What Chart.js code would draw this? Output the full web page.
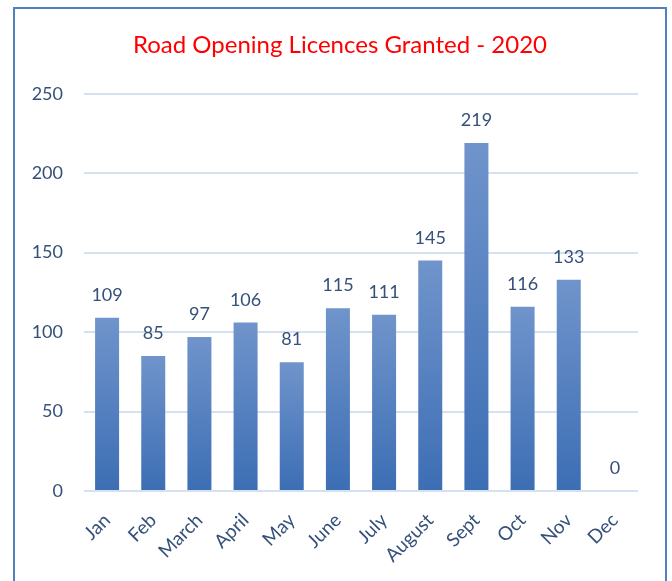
<!DOCTYPE html>
<html>
<head>
<meta charset="utf-8">
<script src="https://cdn.jsdelivr.net/npm/chart.js@4"></script>
<style>
  html, body { margin: 0; padding: 0; background: #fff; }
  #wrap { position: relative; width: 672px; height: 581px; overflow: hidden; }
  #frame { position: absolute; left: 13px; top: 7px; width: 654px; height: 620px; border: 2px solid #4f81bd; box-sizing: border-box; }
  canvas { position: absolute; left: 0; top: 0; }
</style>
</head>
<body>
<div id="wrap">
  <div id="frame"></div>
  <canvas id="chart" width="672" height="581"></canvas>
</div>
<script>
const months = ['Jan', 'Feb', 'March', 'April', 'May', 'June', 'July', 'August', 'Sept', 'Oct', 'Nov', 'Dec'];
const licences = [109, 85, 97, 106, 81, 115, 111, 145, 219, 116, 133, 0];
const yTicks = [0, 50, 100, 150, 200, 250];

const textColor = '#35507a';
const fontFamily = 'Lato, "Open Sans", sans-serif';

// value labels above each bar
const barLabels = {
    id: 'barLabels',
    afterDatasetsDraw(chart) {
        const ctx = chart.ctx;
        const meta = chart.getDatasetMeta(0);
        ctx.save();
        ctx.fillStyle = textColor;
        ctx.font = '18px ' + fontFamily;
        ctx.textAlign = 'center';
        ctx.textBaseline = 'alphabetic';
        meta.data.forEach((bar, i) => {
            ctx.fillText(String(licences[i]), bar.x, bar.y - 17);
        });
        ctx.restore();
    }
};

function barGradient(context) {
    const chart = context.chart;
    const y = chart.scales.y;
    if (!y || context.raw === undefined) return '#4a7cc0';
    const top = y.getPixelForValue(context.raw);
    const base = y.getPixelForValue(0);
    if (!isFinite(top) || !isFinite(base) || top === base) return '#4a7cc0';
    const g = chart.ctx.createLinearGradient(0, top, 0, base);
    g.addColorStop(0, '#7094cb');
    g.addColorStop(1, '#3c6eb4');
    return g;
}

new Chart(document.getElementById('chart'), {
    type: 'bar',
    data: {
        labels: months,
        datasets: [{
            data: licences,
            yAxisID: 'y',
            backgroundColor: barGradient,
            borderWidth: 0,
            categoryPercentage: 1,
            barPercentage: 0.52
        }]
    },
    options: {
        responsive: false,
        animation: false,
        layout: { padding: { left: 8, right: 0, top: 0, bottom: 0 } },
        plugins: {
            legend: { display: false },
            tooltip: { enabled: false },
            title: {
                display: true,
                text: 'Road Opening Licences Granted - 2020',
                color: '#ff0000',
                font: { family: fontFamily, size: 24, weight: 'normal' },
                padding: { top: 31, bottom: 34 }
            }
        },
        scales: {
            y: {
                min: 0,
                max: 250,
                afterBuildTicks: s => { s.ticks = yTicks.map(v => ({ value: v })); },
                afterFit: s => { s.width = 76; },
                border: { display: false },
                grid: { color: '#d5e0f1', lineWidth: 2, drawTicks: false },
                ticks: {
                    color: textColor,
                    padding: 21,
                    font: { family: fontFamily, size: 18 }
                }
            },
            // empty right-hand gutter so the plot ends where the reference does
            gutter: {
                type: 'linear',
                position: 'right',
                afterFit: s => { s.width = 34; },
                border: { display: false },
                grid: { display: false, drawTicks: false },
                ticks: { display: false }
            },
            x: {
                afterFit: s => { s.height = 90; },
                border: { display: false },
                grid: { display: false },
                ticks: {
                    color: textColor,
                    minRotation: 45,
                    maxRotation: 45,
                    padding: 10,
                    font: { family: fontFamily, size: 19 }
                }
            }
        }
    },
    plugins: [barLabels]
});
</script>
</body>
</html>
